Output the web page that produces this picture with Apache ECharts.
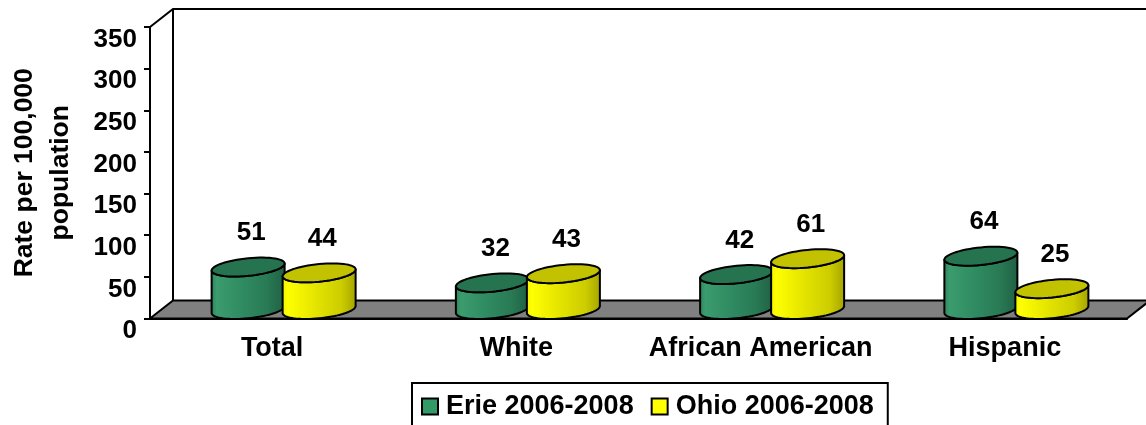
<!DOCTYPE html>
<html><head><meta charset="utf-8">
<style>html,body{margin:0;padding:0;background:#fff}#c{width:1146px;height:425px}</style>
<script src="https://cdn.jsdelivr.net/npm/echarts@6/dist/echarts.min.js"></script>
</head><body><div id="c"></div>
<script>
const categories = ['Total', 'White', 'African American', 'Hispanic'];
const erie = [51, 32, 42, 64];
const ohio = [44, 43, 61, 25];
const yTicks = { min: 0, max: 350, interval: 50 };
const seriesNames = ['Erie 2006-2008', 'Ohio 2006-2008'];
const yAxisTitle = 'Rate per 100,000\npopulation';

const FONT = '"Liberation Sans", Arial, sans-serif';
const DX = 23, DY = -18, A = 36.5, B = 8.8, K = 3.5, GAP = 35.5;

const chart = echarts.init(document.getElementById('c'), null, { renderer: 'canvas' });

function ellipseArc(cx, cy, t0, t1, n) {
  const pts = [];
  for (let i = 0; i <= n; i++) {
    const t = t0 + (t1 - t0) * i / n;
    pts.push([cx + A * Math.cos(t), cy + B * Math.sin(t) - K * Math.cos(t)]);
  }
  return pts;
}

function frameItem(params) {
  const c = params.coordSys;
  const l = c.x, r = c.x + c.width, t = c.y, b = c.y + c.height;
  const line = { stroke: '#000', lineWidth: 2, fill: null };
  return {
    type: 'group', children: [
      { type: 'polygon', shape: { points: [[l, b], [l + DX, b + DY], [r + DX, b + DY], [r, b]] },
        style: { fill: '#808080', stroke: '#000', lineWidth: 2 } },
      { type: 'polyline', shape: { points: [[l, t], [l + DX, t + DY], [r + DX, t + DY]] }, style: line },
      { type: 'line', shape: { x1: l + DX, y1: t + DY, x2: l + DX, y2: b + DY }, style: line }
    ]
  };
}

function cylinderItem(side, stops, topFill) {
  return function (params, api) {
    const base = api.coord([api.value(0), 0]);
    const top = api.coord([api.value(0), api.value(1)]);
    const cx = base[0] + DX / 2 + side * GAP;
    const by = base[1] + DY / 2, ty = top[1] + DY / 2;
    const body = ellipseArc(cx, ty, Math.PI, 0, 24)
      .concat(ellipseArc(cx, by, 0, Math.PI, 36));
    const cap = ellipseArc(cx, ty, 0, 2 * Math.PI, 60);
    return {
      type: 'group', children: [
        { type: 'polygon', shape: { points: body },
          style: { fill: new echarts.graphic.LinearGradient(0, 0, 1, 0, stops), stroke: '#000', lineWidth: 2, lineJoin: 'round' } },
        { type: 'polygon', shape: { points: cap }, style: { fill: topFill, stroke: '#000', lineWidth: 2, lineJoin: 'round' } },
        { type: 'text', style: { x: cx + 3, y: ty - 34, text: String(api.value(1)), fill: '#000',
            font: 'bold 26px ' + FONT, align: 'center', verticalAlign: 'middle' } }
      ]
    };
  };
}

const greenStops = [
  { offset: 0, color: '#2b8259' }, { offset: 0.08, color: '#3b9c6e' }, { offset: 0.4, color: '#308c62' },
  { offset: 0.75, color: '#297a55' }, { offset: 1, color: '#1f5f43' }
];
const yellowStops = [
  { offset: 0, color: '#f0f000' }, { offset: 0.08, color: '#ffff00' }, { offset: 0.45, color: '#e4e400' },
  { offset: 0.8, color: '#cccc00' }, { offset: 1, color: '#a3a300' }
];

chart.setOption({
  animation: false,
  backgroundColor: '#fff',
  grid: { left: 150, right: 19, top: 27, bottom: 106.5, containLabel: false, outerBoundsMode: 'none' },
  legend: {
    data: seriesNames, left: 412, top: 383, orient: 'horizontal', icon: 'rect',
    itemWidth: 16, itemHeight: 16, itemGap: 17,
    padding: [10, 14, 28, 9],
    borderColor: '#000', borderWidth: 2, backgroundColor: '#fff',
    textStyle: { fontFamily: FONT, fontWeight: 'bold', fontSize: 27, color: '#000', padding: [0, 0, 0, 3] },
    selectedMode: false
  },
  xAxis: {
    type: 'category', data: categories, boundaryGap: true,
    axisLine: { lineStyle: { color: '#000', width: 2 } },
    axisTick: { alignWithLabel: false, length: 5, lineStyle: { color: '#000', width: 2 } },
    axisLabel: { color: '#000', fontFamily: FONT, fontWeight: 'bold', fontSize: 27, margin: 17, interval: 0 }
  },
  yAxis: {
    type: 'value', min: yTicks.min, max: yTicks.max, interval: yTicks.interval,
    name: yAxisTitle, nameLocation: 'middle', nameGap: 71, nameRotate: 90,
    nameTextStyle: { color: '#000', fontFamily: FONT, fontWeight: 'bold', fontSize: 26.5, lineHeight: 36 },
    axisLine: { show: true, lineStyle: { color: '#000', width: 2 } },
    axisTick: { show: true, length: 6, lineStyle: { color: '#000', width: 2 } },
    splitLine: { show: false },
    axisLabel: { color: '#000', fontFamily: FONT, fontWeight: 'bold', fontSize: 26, margin: 13, verticalAlign: 'top', lineHeight: 25 }
  },
  series: [
    { type: 'custom', name: 'frame', silent: true, z: 1, renderItem: frameItem, data: [[0, 0]], clip: false, encode: { x: 0, y: 1 } },
    { type: 'custom', name: seriesNames[0], z: 2, clip: false, encode: { x: 0, y: 1 },
      itemStyle: { color: '#339966', borderColor: '#000', borderWidth: 2 },
      renderItem: cylinderItem(-1, greenStops, '#267350'),
      data: erie.map((v, i) => [i, v]) },
    { type: 'custom', name: seriesNames[1], z: 3, clip: false, encode: { x: 0, y: 1 },
      itemStyle: { color: '#ffff00', borderColor: '#000', borderWidth: 2 },
      renderItem: cylinderItem(1, yellowStops, '#c2c200'),
      data: ohio.map((v, i) => [i, v]) }
  ]
});
</script></body></html>
